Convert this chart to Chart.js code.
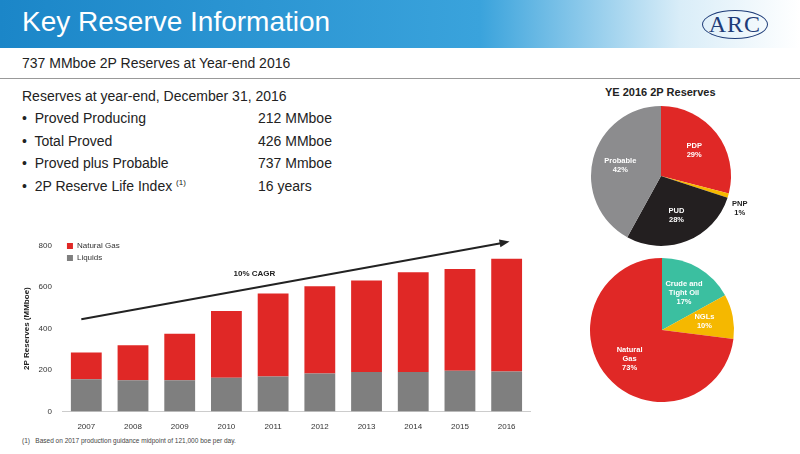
<!DOCTYPE html>
<html><head><meta charset="utf-8">
<script src="https://cdn.jsdelivr.net/npm/chart.js@4"></script>
<style>
body{margin:0;width:800px;height:454px;position:relative;background:#fff;font-family:Arial,"Liberation Sans",sans-serif;overflow:hidden}
#hdr{position:absolute;left:0;top:0;width:800px;height:48px;background:linear-gradient(90deg,#1b86c8,#3aa3dc 60%,#d9edf8 85%,#fff)}
#hdr h1{margin:0;position:absolute;left:22px;top:6px;font-weight:normal;color:#fff;font-size:28px}
#logo{position:absolute;right:32px;top:10px;font-family:"Liberation Serif",serif;font-size:24px;color:#1e3c78;border:1.5px solid #1e3c78;border-radius:50%;padding:0 6px;letter-spacing:1px}
.t{position:absolute;color:#222;font-size:14px}
canvas{position:absolute}
#bar{left:18px;top:238px}
#p1{left:586px;top:101px}
#p2{left:586px;top:255px}
</style></head><body>
<div id="hdr"><h1>Key Reserve Information</h1><div id="logo">ARC</div></div>
<div class="t" style="left:22px;top:55px;font-size:14px">737 MMboe 2P Reserves at Year-end 2016</div>
<div style="position:absolute;left:0;top:78px;width:800px;height:1px;background:#999"></div>
<div class="t" style="left:22px;top:88px">Reserves at year-end, December 31, 2016</div>
<div class="t" style="left:22px;top:110px">•&nbsp; Proved Producing</div><div class="t" style="left:258px;top:110px">212 MMboe</div>
<div class="t" style="left:22px;top:133px">•&nbsp; Total Proved</div><div class="t" style="left:258px;top:133px">426 MMboe</div>
<div class="t" style="left:22px;top:155px">•&nbsp; Proved plus Probable</div><div class="t" style="left:258px;top:155px">737 Mmboe</div>
<div class="t" style="left:22px;top:178px">•&nbsp; 2P Reserve Life Index <sup style="font-size:8px">(1)</sup></div><div class="t" style="left:258px;top:178px">16 years</div>
<div class="t" style="left:605px;top:86px;font-size:11px;font-weight:bold">YE 2016 2P Reserves</div>
<div class="t" style="left:22px;top:437px;font-size:6.5px;color:#444">(1)&nbsp;&nbsp; Based on 2017 production guidance midpoint of 121,000 boe per day.</div>
<canvas id="bar" width="520" height="197"></canvas><canvas id="p1" width="180" height="150"></canvas><canvas id="p2" width="154" height="150"></canvas>
<script>
const years=['2007','2008','2009','2010','2011','2012','2013','2014','2015','2016'];
const liquids=[155,150,150,162,168,183,190,190,196,193];
const totals=[285,320,375,485,570,605,632,672,688,737];
const natGas=totals.map((t,i)=>t-liquids[i]);
const reserveLabels=['PDP','PNP','PUD','Probable'];
const reserveVals=[29,1,28,42];
const productLabels=['Crude and\nTight Oil','NGLs','Natural\nGas'];
const productVals=[17,10,73];
const RED='#e02826',GRAY='#7f7f7f';
Chart.defaults.font.family='Arial, "Liberation Sans", sans-serif';
Chart.defaults.animation=false;
const arrow={id:'arrow',afterDatasetsDraw(c){const x=c.scales.x,y=c.scales.y,ctx=c.ctx;
 const x0=x.getPixelForValue(0)-5,y0=y.getPixelForValue(445),x1=x.getPixelForValue(9)-3,y1=y.getPixelForValue(815);
 ctx.save();ctx.strokeStyle='#222';ctx.fillStyle='#222';ctx.lineWidth=2;ctx.beginPath();ctx.moveTo(x0,y0);ctx.lineTo(x1,y1);ctx.stroke();
 const a=Math.atan2(y1-y0,x1-x0);ctx.beginPath();ctx.moveTo(x1+6*Math.cos(a),y1+6*Math.sin(a));
 ctx.lineTo(x1-4*Math.cos(a)+4*Math.sin(a),y1-4*Math.sin(a)-4*Math.cos(a));ctx.lineTo(x1-4*Math.cos(a)-4*Math.sin(a),y1-4*Math.sin(a)+4*Math.cos(a));ctx.fill();
 ctx.font='bold 8px Arial';ctx.textAlign='center';ctx.fillText('10% CAGR',x.getPixelForValue(3.6),y.getPixelForValue(655));ctx.restore();}};
new Chart(document.getElementById('bar'),{type:'bar',data:{labels:years,datasets:[
 {label:'Liquids',data:liquids,backgroundColor:GRAY,stack:'s'},
 {label:'Natural Gas',data:natGas,backgroundColor:RED,stack:'s'}]},
 options:{responsive:false,layout:{padding:{right:8,top:5}},
 datasets:{bar:{categoryPercentage:1,barPercentage:0.66}},
 plugins:{legend:{position:'chartArea',align:'start',reverse:true,labels:{boxWidth:6,boxHeight:6,font:{size:8},color:'#333',padding:4}},tooltip:{enabled:false}},
 scales:{x:{stacked:true,grid:{display:false},border:{color:'#ccc'},ticks:{font:{size:8},color:'#333'}},
 y:{stacked:true,min:0,max:800,ticks:{stepSize:200,font:{size:8},color:'#333'},grid:{display:false},border:{display:false},
 title:{display:true,text:'2P Reserves (MMboe)',font:{size:8,weight:'bold'},color:'#222'}}}},plugins:[arrow]});
function pieLabels(outside){return {id:'pl',afterDatasetsDraw(c){const ctx=c.ctx,m=c.getDatasetMeta(0),d=c.data.datasets[0].data;
 ctx.save();ctx.font='bold 7.5px Arial';ctx.textAlign='center';ctx.textBaseline='middle';
 m.data.forEach((a,i)=>{const ang=(a.startAngle+a.endAngle)/2;let r=a.outerRadius*0.6,col='#fff';
  if(outside&&outside[i]){r=a.outerRadius+12;col='#222';}
  const cx=a.x+Math.cos(ang)*r,cy=a.y+Math.sin(ang)*r+(outside&&outside[i]?10:0);
  const lines=(c.data.labels[i]+'\n'+d[i]+'%').split('\n');ctx.fillStyle=col;
  lines.forEach((l,k)=>ctx.fillText(l,cx,cy+(k-(lines.length-1)/2)*9));});ctx.restore();}};}
const popt={responsive:false,plugins:{legend:{display:false},tooltip:{enabled:false}}};
new Chart(document.getElementById('p1'),{type:'pie',data:{labels:reserveLabels,datasets:[{data:reserveVals,backgroundColor:[RED,'#f5b800','#231f20','#8c8c8e'],borderWidth:0}]},
 options:{...popt,layout:{padding:{left:5,right:35,top:4,bottom:4}}},plugins:[pieLabels([false,true,false,false])]});
new Chart(document.getElementById('p2'),{type:'pie',data:{labels:productLabels,datasets:[{data:productVals,backgroundColor:['#3bbfa0','#f5b800',RED],borderWidth:0}]},
 options:{...popt,layout:{padding:{left:3,right:5,top:3,bottom:3}}},plugins:[pieLabels()]});
</script></body></html>
